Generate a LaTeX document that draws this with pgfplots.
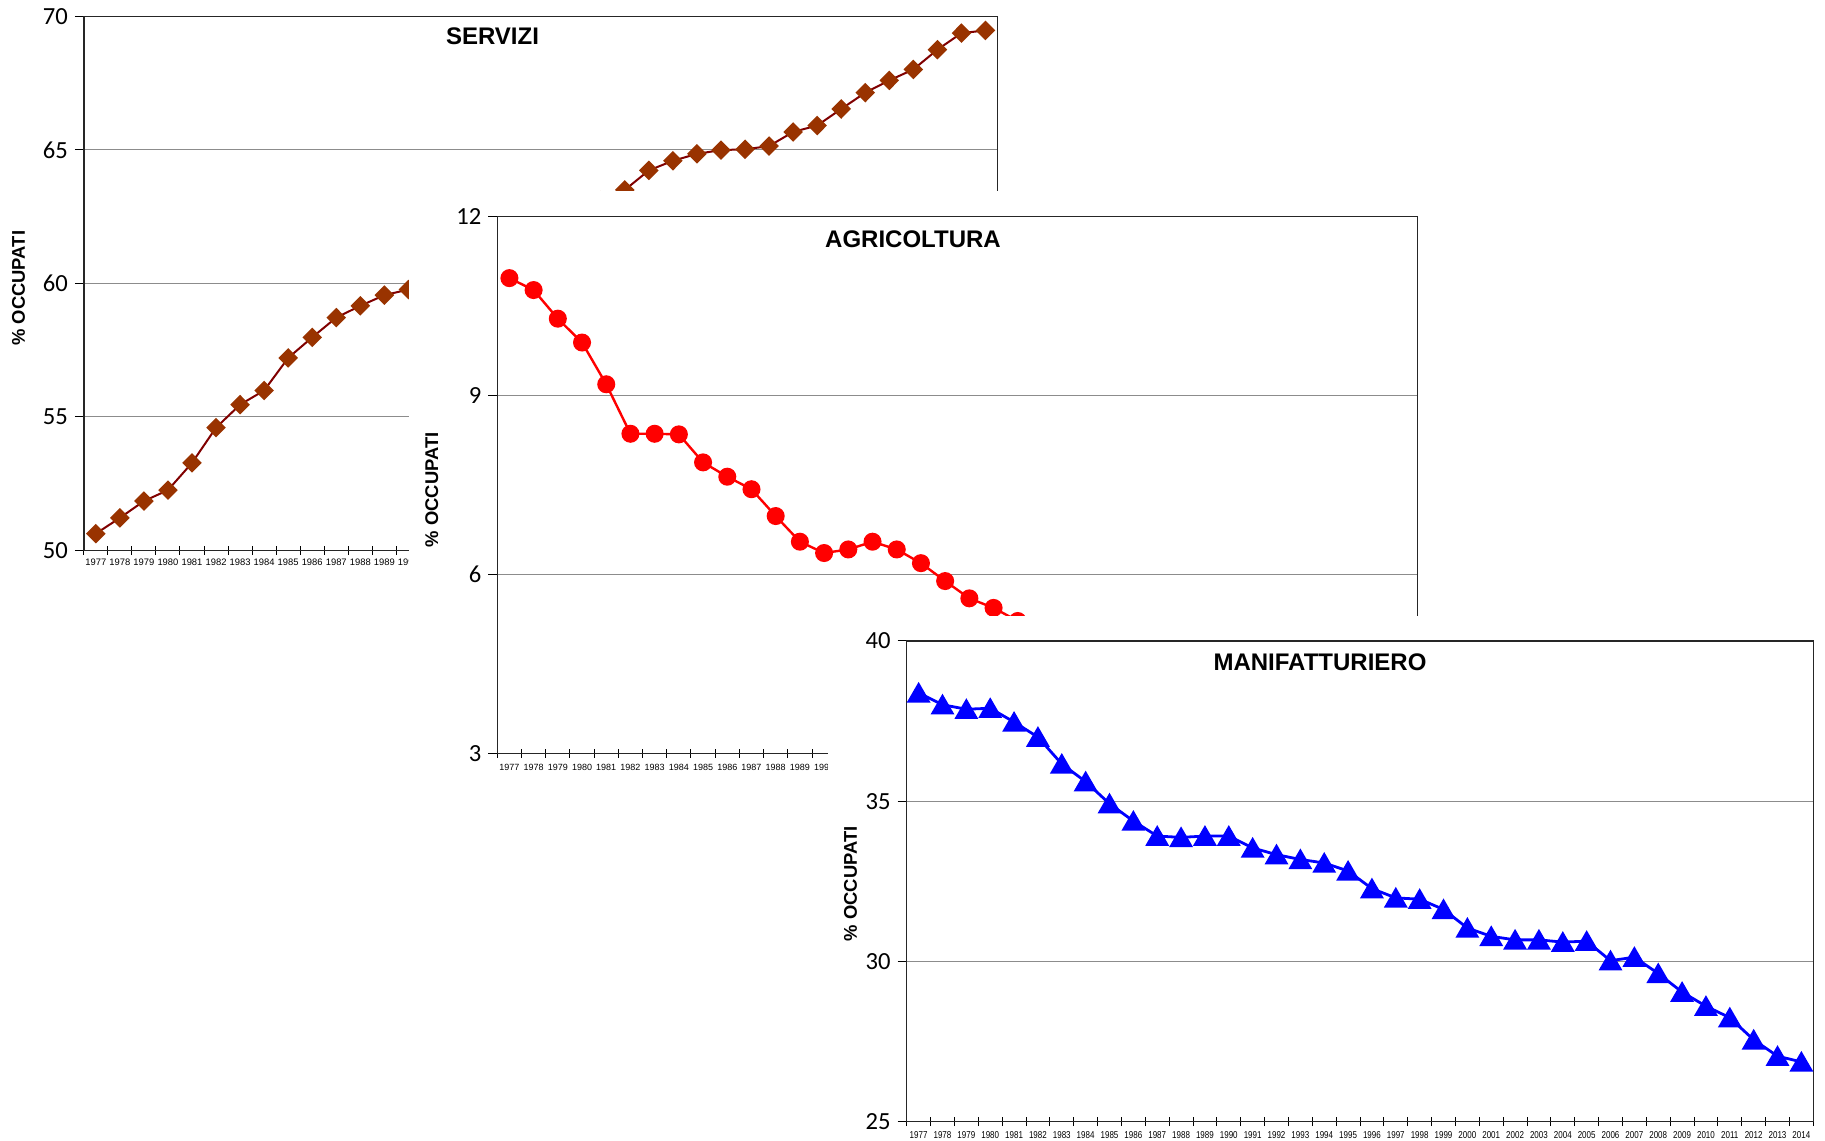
\documentclass[border=0pt]{standalone}
\usepackage{pgfplots}
\pgfplotsset{compat=1.18}
\usepackage{fontspec}
\setmainfont{Liberation Sans}
\newfontfamily\carlito{Carlito}
\newfontfamily\yearfont{Liberation Sans}
\newfontfamily\yearfontnarrow[FakeStretch=0.8]{Liberation Sans}

\definecolor{servline}{HTML}{800000}
\definecolor{servfill}{HTML}{993300}
\definecolor{agrired}{HTML}{FF0000}
\definecolor{manblue}{HTML}{0000FF}

\pgfplotsset{
  panel/.style={
    scale only axis,
    anchor=south west,
    clip=false,
    xmin=-0.5, xmax=37.5,
    xtick={-0.5,0.5,...,37.5},
    x tick label as interval,
    xticklabels={1977,1978,1979,1980,1981,1982,1983,1984,1985,1986,1987,1988,1989,1990,
      1991,1992,1993,1994,1995,1996,1997,1998,1999,2000,2001,2002,2003,2004,2005,2006,
      2007,2008,2009,2010,2011,2012,2013,2014},
    xtick pos=bottom, ytick pos=left,
    xtick align=center, ytick align=outside,
    major tick length=4.5pt,
    tick style={black, line width=0.5pt},
    xticklabel style={font=\yearfont\fontsize{4.7}{4.7}\selectfont, inner sep=0pt, anchor=north, yshift=-1.6pt},
    yticklabel style={font=\carlito\fontsize{12.3}{12.3}\selectfont},
    /pgf/number format/assume math mode=true,
    ymajorgrids,
    major grid style={black!45, line width=0.45pt},
    axis line style={black!85, line width=0.7pt},
  },
}
\tikzset{
  ptitle/.style={font=\bfseries\fontsize{12}{12}\selectfont, inner sep=0pt},
  plab/.style={font=\bfseries\fontsize{9.2}{9.2}\selectfont, rotate=90, inner sep=0pt},
}

\begin{document}
\begin{tikzpicture}[x=1pt,y=1pt]
\useasboundingbox (0,0) rectangle (912.5,570);

% --- Servizi ---
\begin{axis}[panel, at={(41.9pt,294.75pt)}, width=456.85pt, height=267.1pt,
  ymin=50, ymax=70, ytick={50,55,60,65,70}]
\addplot[servline, line width=1pt, mark=diamond*, mark size=4.2pt,
  mark options={solid, fill=servfill, draw=servfill, xscale=1.33}] coordinates {
  (0,50.63) (1,51.22) (2,51.85) (3,52.26) (4,53.28) (5,54.60) (6,55.46) (7,55.99)
  (8,57.21) (9,57.98) (10,58.72) (11,59.16) (12,59.56) (13,59.77) (14,60.2) (15,60.6)
  (16,61.0) (17,61.5) (18,62.0) (19,62.4) (20,62.8) (21,63.1) (22,63.5) (23,64.23)
  (24,64.59) (25,64.85) (26,64.99) (27,65.02) (28,65.14) (29,65.67) (30,65.91) (31,66.53)
  (32,67.14) (33,67.60) (34,68.01) (35,68.75) (36,69.37) (37,69.47)};
\end{axis}
\node[ptitle] at (246.25,551.9) {SERVIZI};
\node[plab] at (9.25,425.85) {\% OCCUPATI};

% panel background of the next chart
\fill[white] (204.25,175) rectangle (715,474.65);

% --- Agricoltura ---
\begin{axis}[panel, at={(248.65pt,193.3pt)}, width=459.95pt, height=268.35pt,
  ymin=3, ymax=12, ytick={3,6,9,12},
  xticklabel style={font=\yearfont\fontsize{4.5}{4.5}\selectfont, yshift=-1.2pt}]
\addplot[agrired, line width=1.2pt, mark=*, mark size=3.9pt,
  mark options={solid, fill=agrired, draw=agrired}] coordinates {
  (0,10.97) (1,10.77) (2,10.29) (3,9.89) (4,9.19) (5,8.36) (6,8.36) (7,8.35)
  (8,7.88) (9,7.64) (10,7.43) (11,6.98) (12,6.55) (13,6.36) (14,6.42) (15,6.55)
  (16,6.42) (17,6.19) (18,5.89) (19,5.60) (20,5.44) (21,5.22) (22,5.0) (23,4.9)
  (24,4.8) (25,4.6) (26,4.4) (27,4.3) (28,4.2) (29,4.1) (30,4.0) (31,3.9)
  (32,3.8) (33,3.8) (34,3.7) (35,3.7) (36,3.6) (37,3.6)};
\end{axis}
\node[ptitle] at (456.5,450.4) {AGRICOLTURA};
\node[plab] at (215.9,325.05) {\% OCCUPATI};

\fill[white] (413.85,0) rectangle (912.5,261.8);

% --- Manifatturiero ---
\begin{axis}[panel, at={(453.35pt,9.25pt)}, width=453.3pt, height=240.25pt,
  ymin=25, ymax=40, ytick={25,30,35,40},
  xticklabel style={font=\yearfontnarrow\fontsize{5}{5}\selectfont, yshift=-0.8pt}]
\addplot[manblue, line width=1.4pt, mark=triangle*, mark size=5.5pt,
  mark options={solid, fill=manblue, draw=manblue, yshift=-1.4pt}] coordinates {
  (0,38.38) (1,38.01) (2,37.87) (3,37.90) (4,37.47) (5,37.00) (6,36.16) (7,35.61)
  (8,34.92) (9,34.38) (10,33.91) (11,33.87) (12,33.91) (13,33.91) (14,33.54) (15,33.33)
  (16,33.18) (17,33.07) (18,32.82) (19,32.27) (20,31.98) (21,31.94) (22,31.62) (23,31.04)
  (24,30.78) (25,30.67) (26,30.67) (27,30.60) (28,30.63) (29,30.02) (30,30.13) (31,29.62)
  (32,29.04) (33,28.60) (34,28.24) (35,27.55) (36,27.04) (37,26.86)};
\end{axis}
\node[ptitle] at (660,239) {MANIFATTURIERO};
\node[plab] at (425.3,128.1) {\% OCCUPATI};

\end{tikzpicture}
\end{document}
